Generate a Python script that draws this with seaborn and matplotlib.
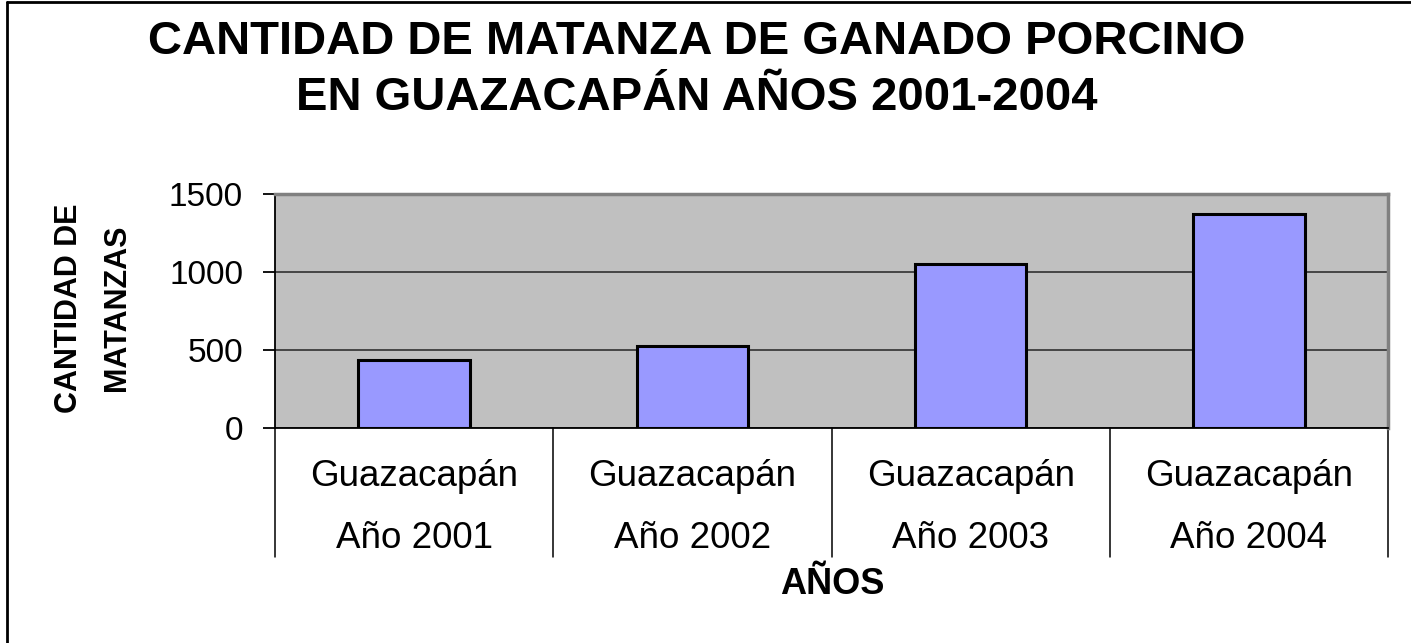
import matplotlib
matplotlib.use("Agg")
import matplotlib.pyplot as plt
from matplotlib.lines import Line2D
import seaborn as sns
import pandas as pd

# Data
categorias = ["Guazacapán\nAño 2001", "Guazacapán\nAño 2002",
              "Guazacapán\nAño 2003", "Guazacapán\nAño 2004"]
matanzas = [435, 525, 1048, 1368]
yticks = [0, 500, 1000, 1500]

titulo = "CANTIDAD DE MATANZA DE GANADO PORCINO\nEN GUAZACAPÁN AÑOS 2001-2004"
etiqueta_y = "CANTIDAD DE\nMATANZAS"
etiqueta_x = "AÑOS"

sns.set_theme(style="white")
plt.rcParams["font.family"] = ["Liberation Sans", "DejaVu Sans"]
plt.rcParams.update({"text.color": "black", "axes.labelcolor": "black",
                     "xtick.color": "black", "ytick.color": "black"})

df = pd.DataFrame({"categoria": categorias, "valor": matanzas})

fig = plt.figure(figsize=(14.11, 6.43), dpi=100)
ax = fig.add_axes([275 / 1411, 1 - 428 / 643, (1388 - 275) / 1411, (428 - 193.5) / 643])
ax.set_facecolor("#C0C0C0")

sns.barplot(data=df, x="categoria", y="valor", ax=ax, color="#9999FF",
            saturation=1, width=0.40, edgecolor="black", linewidth=2.2, zorder=3)

ax.set_ylim(0, 1500)
ax.set_xlim(-0.5, len(categorias) - 0.5)
ax.set_yticks(yticks)
ax.yaxis.grid(True, color="#303030", linewidth=1.2, zorder=1)
ax.set_axisbelow(True)

# Frame: black axis lines, grey outline top and right
for s in ["left", "bottom"]:
    ax.spines[s].set_color("black")
    ax.spines[s].set_linewidth(1.3)
for s in ["top", "right"]:
    ax.spines[s].set_color("#808080")
    ax.spines[s].set_linewidth(2.5)

ax.tick_params(axis="y", which="major", direction="out", length=9, width=1.3,
               color="black", labelcolor="black", labelsize=24, pad=14, left=True)
ax.tick_params(axis="x", length=0, pad=22, labelsize=26.5, labelcolor="black")
for lbl in ax.get_xticklabels():
    lbl.set_linespacing(2.02)

ax.set_xlabel("")
ax.set_ylabel("")

# Category separators below the axis
sep_len = (557 - 428) / (428 - 193.5)
for k in range(len(categorias) + 1):
    xf = k / len(categorias)
    ax.add_line(Line2D([xf, xf], [0, -sep_len], transform=ax.transAxes,
                       color="black", linewidth=1.1, clip_on=False))

# Titles and axis labels
fig.text(697 / 1411, 1 - 70 / 643, titulo, ha="center", va="center",
         fontsize=34, fontweight="bold", linespacing=1.38, color="black")
fig.text(93 / 1411, 1 - 308 / 643, etiqueta_y, rotation=90, ha="center",
         va="center", fontsize=22, fontweight="bold", linespacing=1.75,
         color="black")
fig.text(832 / 1411, 1 - 585 / 643, etiqueta_x, ha="center", va="center",
         fontsize=26, fontweight="bold", color="black")

# Outer chart border
fig.add_artist(Line2D([7 / 1411, 7 / 1411], [0, 1 - 1.5 / 643],
                      transform=fig.transFigure, color="black", linewidth=2))
fig.add_artist(Line2D([7 / 1411, 1], [1 - 1.5 / 643, 1 - 1.5 / 643],
                      transform=fig.transFigure, color="black", linewidth=2))

fig.savefig("out.png", dpi=100, facecolor="white")
